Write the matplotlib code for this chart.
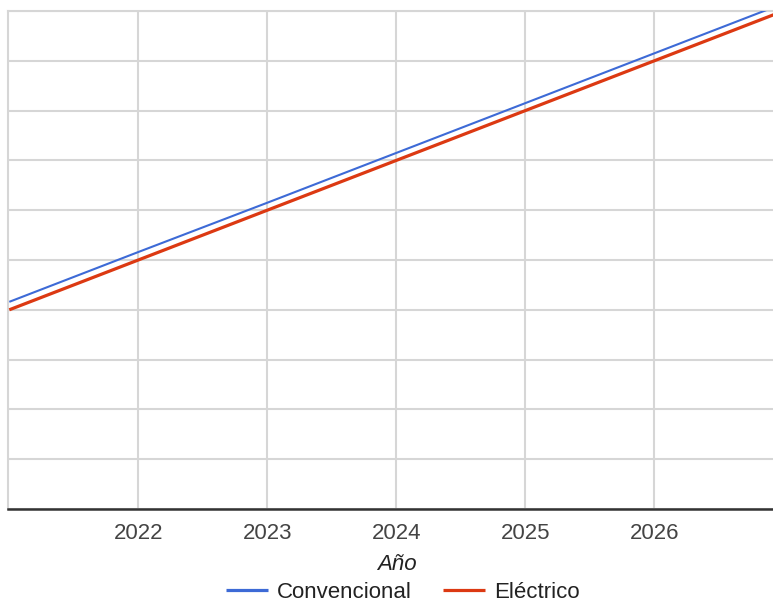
import matplotlib.pyplot as plt

# datos (eje Y sin etiquetas en la imagen)
anios = [2021, 2022, 2023, 2024, 2025, 2026, 2027]
convencional = [4.16, 5.16, 6.15, 7.15, 8.15, 9.15, 10.15]
electrico = [4.0, 5.0, 6.0, 7.0, 8.0, 9.0, 10.0]
xticks = [2022, 2023, 2024, 2025, 2026]

plt.rcParams['font.family'] = ['Liberation Sans', 'DejaVu Sans']

W, H = 773, 602
fig = plt.figure(figsize=(W / 100, H / 100), dpi=100)
ax = fig.add_axes([8 / W, 1 - 509 / H, 1 - 8 / W, (509 - 11) / H])

l1, = ax.plot(anios, convencional, color='#3d6ad6', lw=1.5, label='Convencional',
              solid_capstyle='butt', zorder=3)
l2, = ax.plot(anios, electrico, color='#dc3912', lw=2.3, label='Eléctrico',
              solid_capstyle='butt', zorder=3)

ax.set_xlim(2020.99, 2026.92)
ax.set_ylim(0, 10)
ax.set_xticks(xticks)
ax.set_yticks(range(0, 11))
ax.set_yticklabels([])
ax.tick_params(axis='x', length=0, pad=10, labelsize=16, labelcolor='#444444')
ax.tick_params(axis='y', length=0)
ax.grid(True, color='#d6d6d6', lw=1.5, zorder=0)
ax.set_axisbelow(True)

for s in ['top', 'left']:
    ax.spines[s].set_color('#d6d6d6')
    ax.spines[s].set_linewidth(1.5)
ax.spines['right'].set_visible(False)
ax.spines['bottom'].set_color('#333333')
ax.spines['bottom'].set_linewidth(1.8)
ax.spines['bottom'].set_zorder(4)

fig.text(397 / W, 1 - 564 / H, 'Año', ha='center', va='center', fontsize=16,
         style='italic', color='#222222')

fig.legend(handles=[l1, l2], loc='center', bbox_to_anchor=(403 / W, 1 - 592 / H),
           ncol=2, frameon=False, fontsize=16, handlelength=1.9, handletextpad=0.4,
           columnspacing=1.4, labelcolor='#222222', borderpad=0, borderaxespad=0)
for h in fig.legends[0].legend_handles:
    h.set_linewidth(2.3)

fig.savefig('out.png', dpi=100)
